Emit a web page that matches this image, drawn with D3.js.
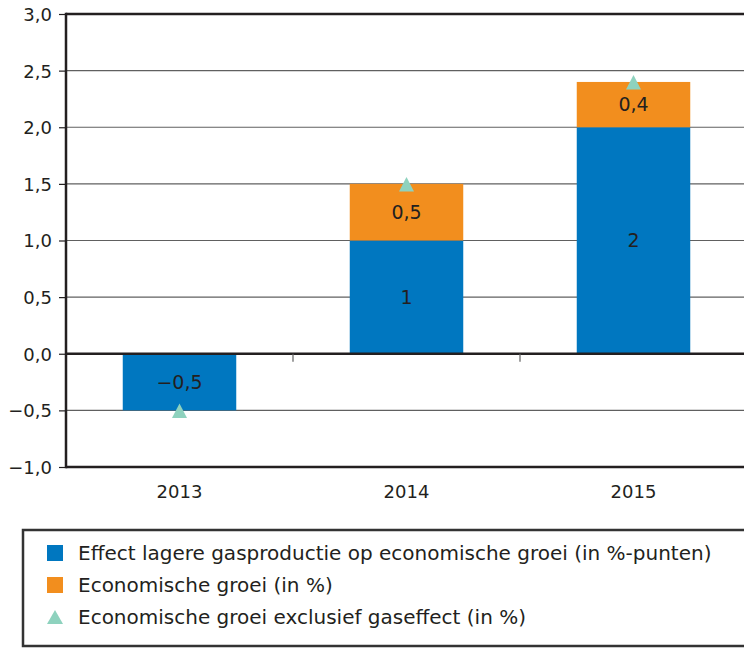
<!DOCTYPE html>
<html>
<head>
<meta charset="utf-8">
<script src="https://cdn.jsdelivr.net/npm/d3@7"></script>
<style>
  body { margin: 0; background: #fff; }
  text { font-family: "DejaVu Sans", sans-serif; fill: #231f20; }
</style>
</head>
<body>
<div id="figure"></div>
<script>
const years = ["2013", "2014", "2015"];
const gasEffect = [-0.5, 1, 2];
const growth = [0, 0.5, 0.4];
const growthExGas = [-0.5, 1.5, 2.4];
const yTicks = [-1, -0.5, 0, 0.5, 1, 1.5, 2, 2.5, 3];
const legendLabels = [
  "Effect lagere gasproductie op economische groei (in %-punten)",
  "Economische groei (in %)",
  "Economische groei exclusief gaseffect (in %)"
];

const width = 744,
      height = 648;

const blue = "#0077c0",
      orange = "#f28e1e",
      teal = "#8ed2be",
      ink = "#231f20";

const fmt = v => (v < 0 ? "\u2212" : "") + Math.abs(v).toFixed(1).replace(".", ",");
const fmtBar = v => (v < 0 ? "\u2212" : "") + String(Math.abs(v)).replace(".", ",");

const svg = d3.select("#figure").append("svg")
    .attr("width", width)
    .attr("height", height);

const x = d3.scaleBand()
    .domain(years)
    .range([66, 747]);

const y = d3.scaleLinear()
    .domain([-1, 3])
    .range([467, 14]);

// Grid lines.
svg.append("g")
    .selectAll("line")
    .data(yTicks.filter(d => d !== 0 && d !== 3 && d !== -1))
    .join("line")
      .attr("x1", 66)
      .attr("x2", width)
      .attr("y1", d => y(d))
      .attr("y2", d => y(d))
      .attr("stroke", "#606060")
      .attr("stroke-width", 1.2);

// Stacked bars.
const barX = d => x(d) + x.bandwidth() * 0.25;
const bars = svg.append("g");
bars.selectAll("rect.gas")
    .data(years)
    .join("rect")
      .attr("class", "gas")
      .attr("x", barX)
      .attr("width", x.bandwidth() * 0.5)
      .attr("y", (d, i) => y(Math.max(0, gasEffect[i])))
      .attr("height", (d, i) => Math.abs(y(gasEffect[i]) - y(0)))
      .attr("fill", blue);

bars.selectAll("rect.growth")
    .data(years.filter((d, i) => growth[i] > 0))
    .join("rect")
      .attr("class", "growth")
      .attr("x", barX)
      .attr("width", x.bandwidth() * 0.5)
      .attr("y", d => {
        const i = years.indexOf(d);
        return y(gasEffect[i] + growth[i]);
      })
      .attr("height", d => {
        const i = years.indexOf(d);
        return y(gasEffect[i]) - y(gasEffect[i] + growth[i]);
      })
      .attr("fill", orange);

// Bar labels.
svg.append("g")
    .selectAll("text")
    .data(years)
    .join("text")
      .attr("x", d => x(d) + x.bandwidth() / 2)
      .attr("y", (d, i) => (y(0) + y(gasEffect[i])) / 2)
      .attr("dy", "0.36em")
      .attr("text-anchor", "middle")
      .attr("font-size", 19)
      .text((d, i) => fmtBar(gasEffect[i]));

svg.append("g")
    .selectAll("text")
    .data(years.filter((d, i) => growth[i] > 0))
    .join("text")
      .attr("x", d => x(d) + x.bandwidth() / 2)
      .attr("y", d => {
        const i = years.indexOf(d);
        return (y(gasEffect[i]) + y(gasEffect[i] + growth[i])) / 2;
      })
      .attr("dy", "0.36em")
      .attr("text-anchor", "middle")
      .attr("font-size", 19)
      .text(d => fmtBar(growth[years.indexOf(d)]));

// Triangles.
svg.append("g")
    .selectAll("path")
    .data(years)
    .join("path")
      .attr("transform", (d, i) => `translate(${x(d) + x.bandwidth() / 2},${y(growthExGas[i])})`)
      .attr("d", "M0,-7L7.5,7.5L-7.5,7.5Z")
      .attr("fill", teal);

// Frame lines: top, zero and bottom.
svg.append("g")
    .selectAll("line")
    .data([3, 0, -1])
    .join("line")
      .attr("x1", 66).attr("x2", width)
      .attr("y1", d => y(d)).attr("y2", d => y(d))
      .attr("stroke", ink).attr("stroke-width", 2.5);

// Category separator ticks on the zero line.
svg.append("g")
    .selectAll("line")
    .data(years.slice(1))
    .join("line")
      .attr("x1", d => x(d)).attr("x2", d => x(d))
      .attr("y1", y(0)).attr("y2", y(0) + 8)
      .attr("stroke", "#606060").attr("stroke-width", 1.2);

// Left axis.
svg.append("g")
    .attr("transform", "translate(66,0)")
    .call(d3.axisLeft(y).tickValues(yTicks).tickFormat(fmt).tickSize(7).tickPadding(7))
    .call(g => g.select(".domain").attr("stroke", ink).attr("stroke-width", 2.5)
        .attr("d", `M0,${y(3) - 1.25}V${y(-1) + 1.25}`))
    .call(g => g.selectAll(".tick line").attr("stroke", ink).attr("stroke-width", 1.2))
    .call(g => g.selectAll(".tick text")
        .attr("font-size", 18)
        .attr("dy", "0.36em")
        .attr("font-family", "DejaVu Sans, sans-serif")
        .attr("fill", ink));

// Year labels.
svg.append("g")
    .selectAll("text")
    .data(years)
    .join("text")
      .attr("x", d => x(d) + x.bandwidth() / 2)
      .attr("y", 498)
      .attr("text-anchor", "middle")
      .attr("font-size", 18)
      .text(d => d);

// Legend.
const legend = svg.append("g");
legend.append("rect")
    .attr("x", 23).attr("y", 530)
    .attr("width", 740).attr("height", 116)
    .attr("fill", "none")
    .attr("stroke", "#333")
    .attr("stroke-width", 2.5);

const item = legend.selectAll("g.item")
    .data(legendLabels)
    .join("g")
      .attr("class", "item")
      .attr("transform", (d, i) => `translate(47,${553 + i * 32})`);

item.filter((d, i) => i < 2)
    .append("rect")
      .attr("x", 0).attr("y", -8)
      .attr("width", 16).attr("height", 16)
      .attr("fill", (d, i) => i === 0 ? blue : orange);

item.filter((d, i) => i === 2)
    .append("path")
      .attr("d", "M8,-7L16,7L0,7Z")
      .attr("fill", teal);

item.append("text")
    .attr("x", 31)
    .attr("y", 7)
    .attr("font-size", 20)
    .text(d => d);
</script>
</body>
</html>
